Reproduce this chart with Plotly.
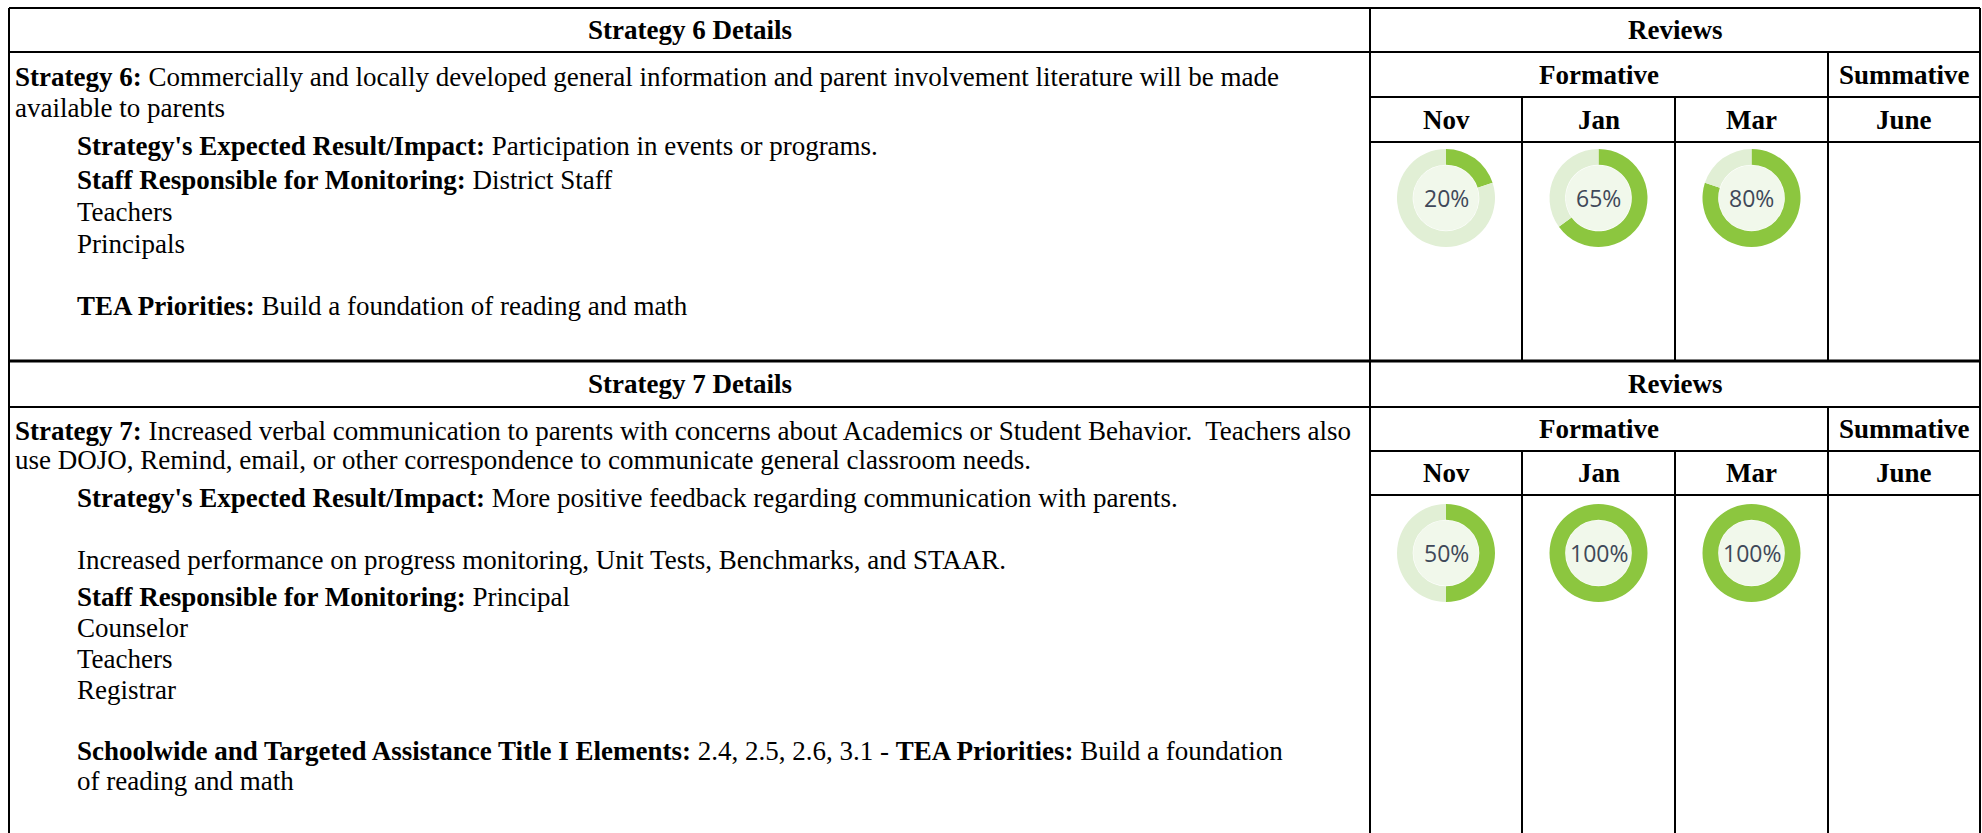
import plotly.graph_objects as go

W, H = 1982, 833

# ---------------- data ----------------
months = ["Nov", "Jan", "Mar", "June"]
review_groups = ["Formative", "Summative"]
strategy6_reviews = [20, 65, 80, None]
strategy7_reviews = [50, 100, 100, None]

strategy6_title = "Strategy 6 Details"
strategy7_title = "Strategy 7 Details"
reviews_title = "Reviews"

strategy6_lines = [
    "<b>Strategy 6:</b> Commercially and locally developed general information and parent involvement literature will be made",
    "available to parents",
    "<b>Strategy's Expected Result/Impact:</b> Participation in events or programs.",
    "<b>Staff Responsible for Monitoring:</b> District Staff",
    "Teachers",
    "Principals",
    "<b>TEA Priorities:</b> Build a foundation of reading and math",
]
strategy7_lines = [
    "<b>Strategy 7:</b> Increased verbal communication to parents with concerns about Academics or Student Behavior.\u00a0 Teachers also",
    "use DOJO, Remind, email, or other correspondence to communicate general classroom needs.",
    "<b>Strategy's Expected Result/Impact:</b> More positive feedback regarding communication with parents.",
    "Increased performance on progress monitoring, Unit Tests, Benchmarks, and STAAR.",
    "<b>Staff Responsible for Monitoring:</b> Principal",
    "Counselor",
    "Teachers",
    "Registrar",
    "<b>Schoolwide and Targeted Assistance Title I Elements:</b> 2.4, 2.5, 2.6, 3.1 - <b>TEA Priorities:</b> Build a foundation",
    "of reading and math",
]

# ---------------- layout geometry ----------------
X_L, X_DIV, X_R = 9, 1370, 1980
COLS = [1370, 1522, 1675, 1828, 1980]
SERIF = "Liberation Serif, Times New Roman, serif"
FS = 27
GREEN = "#8cc63f"
LIGHT = "#e1efd5"
INNER = "#f1f8eb"
PCT_COLOR = "#3f4859"
R_OUT, HOLE = 49, 0.68

sections = [
    dict(top=8, head=52, form=97, month=142, bottom=361,
         title=strategy6_title, lines=strategy6_lines, values=strategy6_reviews,
         line_y=[77, 108, 146, 180, 212, 244, 306],
         line_x=[13, 13, 75, 75, 75, 75, 75], donut_y=198),
    dict(top=361, head=407, form=451, month=495, bottom=H,
         title=strategy7_title, lines=strategy7_lines, values=strategy7_reviews,
         line_y=[431, 460, 498, 560, 597, 628, 659, 690, 751, 781],
         line_x=[13, 13, 75, 75, 75, 75, 75, 75, 75, 75], donut_y=553),
]

fig = go.Figure()
shapes = []
annotations = []


def hline(y, x0, x1, w=2):
    shapes.append(dict(type="line", xref="x", yref="y", x0=x0, x1=x1, y0=y, y1=y,
                       line=dict(color="black", width=w), layer="above"))


def vline(x, y0, y1, w=2):
    shapes.append(dict(type="line", xref="x", yref="y", x0=x, x1=x, y0=y0, y1=y1,
                       line=dict(color="black", width=w), layer="above"))


def text(x, y, s, size=FS, anchor="left", family=SERIF, color="black"):
    annotations.append(dict(x=x, y=y, xref="x", yref="y", text=s, showarrow=False,
                            xanchor=anchor, yanchor="middle", align=anchor if anchor != "center" else "center",
                            font=dict(family=family, size=size, color=color)))


# outer frame
hline(8, X_L, X_R, 2)
vline(X_L, 8, H + 5)
vline(X_DIV, 8, H + 5)
vline(X_R, 8, H + 5)

for si, sec in enumerate(sections):
    hline(sec["head"], X_L, X_R)
    hline(sec["form"], X_DIV, X_R)
    hline(sec["month"], X_DIV, X_R)
    if si == 0:
        hline(sec["bottom"], X_L, X_R, 3)
    vline(COLS[3], sec["head"], sec["bottom"])
    vline(COLS[1], sec["form"], sec["bottom"])
    vline(COLS[2], sec["form"], sec["bottom"])

    # headers
    hy = (sec["top"] + sec["head"]) / 2
    text((X_L + X_DIV) / 2, hy, "<b>%s</b>" % sec["title"], anchor="center")
    text((X_DIV + X_R) / 2, hy, "<b>%s</b>" % reviews_title, anchor="center")
    gy = (sec["head"] + sec["form"]) / 2
    text((COLS[0] + COLS[3]) / 2, gy, "<b>%s</b>" % review_groups[0], anchor="center")
    text((COLS[3] + COLS[4]) / 2, gy, "<b>%s</b>" % review_groups[1], anchor="center")
    my = (sec["form"] + sec["month"]) / 2
    for mi, m in enumerate(months):
        text((COLS[mi] + COLS[mi + 1]) / 2, my, "<b>%s</b>" % m, anchor="center")

    # body text
    for lx, ly, s in zip(sec["line_x"], sec["line_y"], sec["lines"]):
        text(lx, ly, s)

    # donuts
    for mi, v in enumerate(sec["values"]):
        if v is None:
            continue
        cx = (COLS[mi] + COLS[mi + 1]) / 2
        cy = sec["donut_y"]
        fig.add_trace(go.Pie(
            values=[v, 100 - v], labels=["done", "remaining"],
            marker=dict(colors=[GREEN, LIGHT], line=dict(width=0)),
            hole=HOLE, sort=False, direction="clockwise", rotation=0,
            textinfo="none", hoverinfo="skip", showlegend=False,
            domain=dict(x=[(cx - R_OUT) / W, (cx + R_OUT) / W],
                        y=[1 - (cy + R_OUT) / H, 1 - (cy - R_OUT) / H]),
        ))
        ri = R_OUT * HOLE - 0.5
        shapes.append(dict(type="circle", xref="x", yref="y", x0=cx - ri, x1=cx + ri,
                           y0=cy - ri, y1=cy + ri, fillcolor=INNER, line=dict(width=0),
                           layer="below"))
        text(cx, cy, "%d%%" % v, size=23, anchor="center",
             family="Open Sans, Noto Sans, sans-serif", color=PCT_COLOR)

fig.update_layout(
    width=W, height=H, margin=dict(l=0, r=0, t=0, b=0),
    paper_bgcolor="white", plot_bgcolor="white",
    xaxis=dict(range=[0, W], visible=False, fixedrange=True),
    yaxis=dict(range=[H, 0], visible=False, fixedrange=True),
    shapes=shapes, annotations=annotations, showlegend=False,
)
fig.add_trace(go.Scatter(x=[0, W], y=[0, H], mode="markers", marker=dict(opacity=0),
                         hoverinfo="skip", showlegend=False))

fig.write_html("out.html", config=dict(displayModeBar=False, staticPlot=True),
               post_script="document.body.style.margin='0';")
